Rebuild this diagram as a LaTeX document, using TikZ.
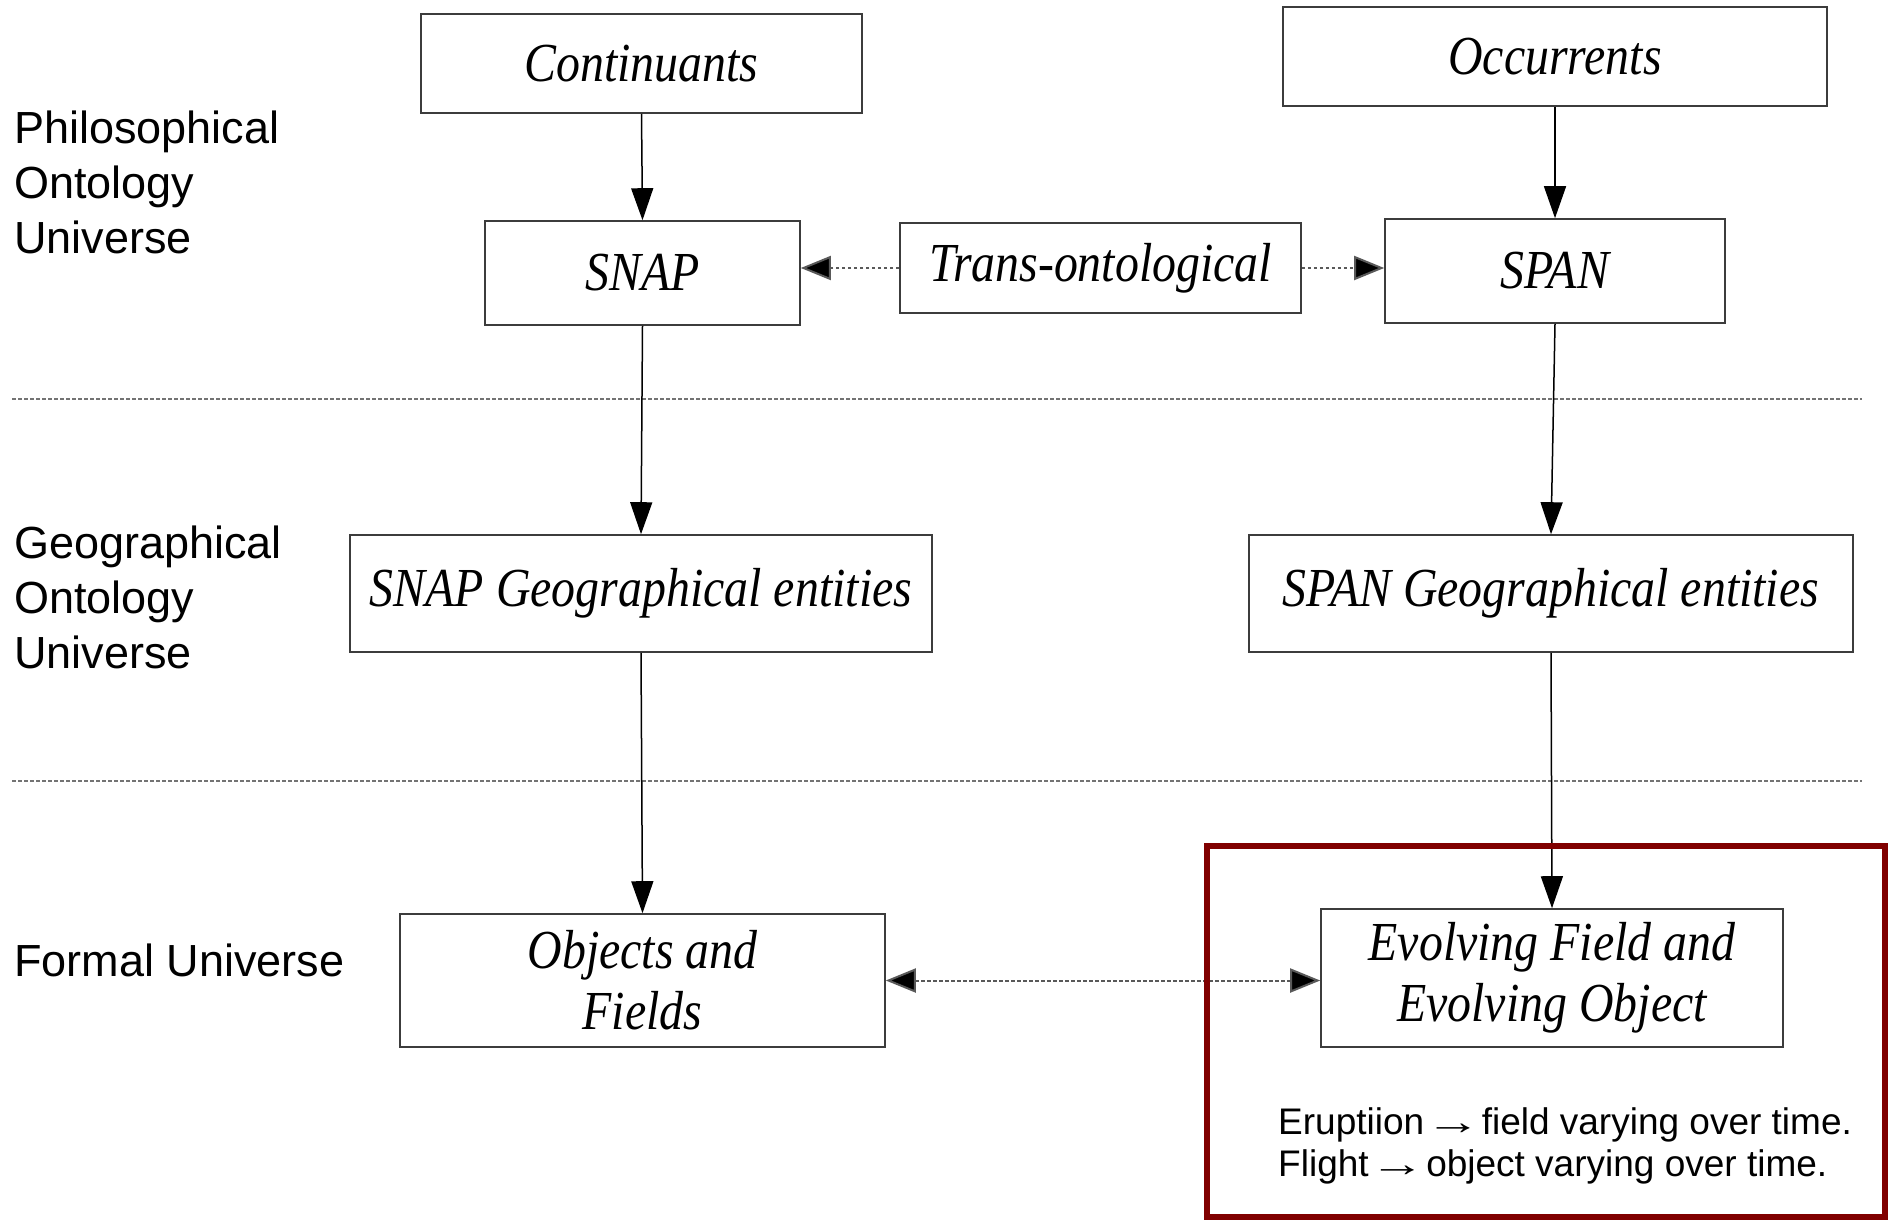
\documentclass[tikz,border=0pt]{standalone}
\usepackage{graphicx}
\usepackage{fontspec}
\setmainfont{Liberation Sans}
\newfontfamily\boxfont[FakeStretch=0.87]{Liberation Serif}
\usetikzlibrary{arrows.meta}
\definecolor{maroonframe}{RGB}{128,0,0}
\definecolor{boxline}{RGB}{60,60,60}
\newcommand{\longto}{\kern-0.25em\scalebox{1.5}[1]{→}\kern-0.25em}
\begin{document}
\begin{tikzpicture}[x=1pt,y=-1pt,
  entity/.style={draw=boxline, line width=1.6pt, fill=white, inner sep=0pt,
    align=center, font=\boxfont\itshape\fontsize{55}{61}\selectfont},
  level/.style={anchor=west, align=left, inner sep=0pt,
    font=\fontsize{45}{55}\selectfont},
  flow/.style={line width=1.5pt, -{Triangle[length=32pt,width=22pt]}},
  dotflow/.style={line width=2pt, draw=black!65, dash pattern=on 3.5pt off 2.5pt,
    -{Triangle[length=30pt,width=24pt,fill=black]}},
  separator/.style={line width=2pt, draw=black!55, dash pattern=on 3.5pt off 2.5pt}
]
\useasboundingbox (0,0) rectangle (1890,1221);

% level labels
\node[level] (lphil) at (14,182) {Philosophical\\Ontology\\Universe};
\node[level] (lgeo) at (14,597) {Geographical\\Ontology\\Universe};
\node[level] (lform) at (14,960) {Formal Universe};

% level separators
\draw[separator] (12,399) -- (1862,399);
\draw[separator] (12,781) -- (1862,781);

% entity boxes
\node[entity, minimum width=441pt, minimum height=99pt]  (cont)    at (641.5,63.5) {Continuants};
\node[entity, minimum width=544pt, minimum height=99pt]  (occ)     at (1555,56.5) {Occurrents};
\node[entity, minimum width=315pt, minimum height=104pt] (snap)    at (642.5,273) {SNAP};
\node[entity, minimum width=401pt, minimum height=90pt]  (trans)   at (1100.5,268) {Trans-ontological};
\node[entity, minimum width=340pt, minimum height=104pt] (span)    at (1555,271) {SPAN};
\node[entity, minimum width=582pt, minimum height=117pt] (snapgeo) at (641,593.5) {SNAP Geographical entities};
\node[entity, minimum width=604pt, minimum height=117pt] (spangeo) at (1551,593.5) {SPAN Geographical entities};
\node[entity, minimum width=485pt, minimum height=133pt] (obj)     at (642.5,980.5) {Objects and\\Fields};
\node[entity, minimum width=462pt, minimum height=138pt] (evo)     at (1552,978) {Evolving Field and\\Evolving Object};

% solid arrows
\draw[flow] (cont.south) -- (snap.north);
\draw[flow] (occ.south) -- (span.north);
\draw[flow] (snap.south) -- (snapgeo.north);
\draw[flow] (span.south) -- (spangeo.north);
\draw[flow] (snapgeo.south) -- (obj.north);
\draw[flow] (spangeo.south) -- (evo.north);

% dotted arrows
\draw[dotflow] (trans.west) -- (trans.west -| snap.east);
\draw[dotflow] (trans.east) -- (trans.east -| span.west);
\draw[dotflow, {Triangle[length=30pt,width=24pt,fill=black]}-{Triangle[length=30pt,width=24pt,fill=black]}]
  (obj.east) -- (obj.east -| evo.west);

% highlighted frame with examples
\draw[draw=maroonframe, line width=5.5pt] (1207,846) rectangle (1885,1217);
\node[anchor=west, align=left, inner sep=0pt, font=\fontsize{37}{42}\selectfont] (examples)
  at (1278,1146) {Eruptiion \longto{} field varying over time.\\Flight \longto{} object varying over time.};
\end{tikzpicture}
\end{document}
